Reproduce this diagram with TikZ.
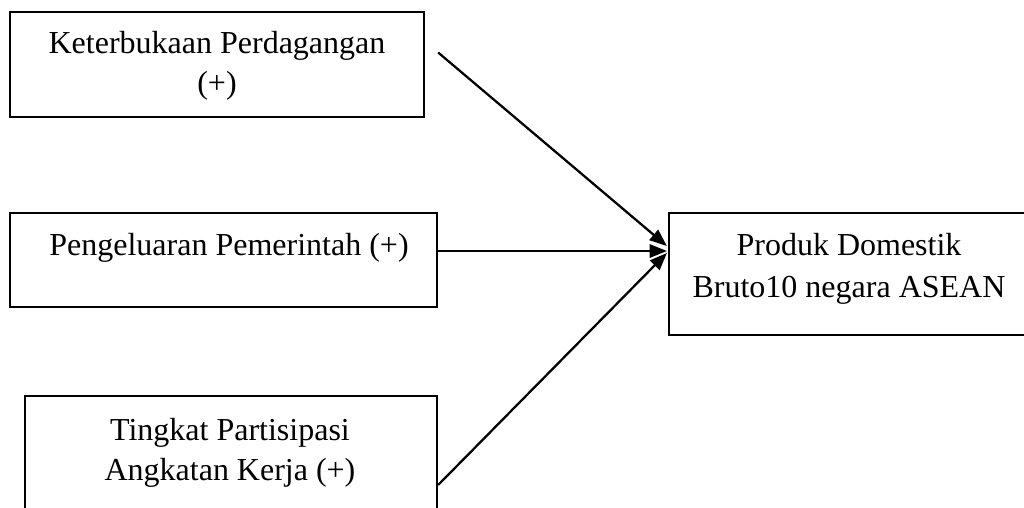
\documentclass[tikz,border=0pt]{standalone}
\usepackage{fontspec}
\setmainfont{Liberation Serif}
\usetikzlibrary{positioning,arrows.meta,calc}

\begin{document}
\begin{tikzpicture}[
x=0.75pt, y=-0.75pt,
font=\fontsize{24}{30}\selectfont,
box/.style={draw, line width=1.7pt, inner sep=0pt},
txt/.style={align=center, anchor=base, inner sep=0pt},
arr/.style={-{Triangle[length=13pt,width=10pt]}, line width=1.7pt}
]
\clip (0,0) rectangle (1024,507);
% boxes
\node[box, minimum width=414*0.75pt, minimum height=105*0.75pt] (trade) at (217,64.5) {};
\node[box, minimum width=427*0.75pt, minimum height=94*0.75pt] (gov) at (223.5,260) {};
\node[box, minimum width=412*0.75pt, minimum height=124*0.75pt] (labor) at (231,458) {};
\node[box, minimum width=361*0.75pt, minimum height=122*0.75pt] (gdp) at (849.5,274) {};

% texts (base = last line)
\node[txt] (tradetxt) at (217,93) {Keterbukaan Perdagangan\\(+)};
\node[txt] (govtxt) at (229,255) {Pengeluaran Pemerintah (+)};
\node[txt] (labortxt) at (230,480) {Tingkat Partisipasi\\Angkatan Kerja (+)};
\node[txt, font=\fontsize{24}{31.5}\selectfont] (gdptxt) at (849,297) {Produk Domestik\\Bruto10 negara ASEAN};

\draw[arr] ($(trade.east)+(13,-12)$) -- ($(gdp.west)+(-1,-28)$);
\draw[arr] ($(gov.east)+(0,-9)$) -- ($(gdp.west)+(-1,-23)$);
\draw[arr] ($(labor.east)+(0,27)$) -- ($(gdp.west)+(-1,-21)$);
\end{tikzpicture}
\end{document}
